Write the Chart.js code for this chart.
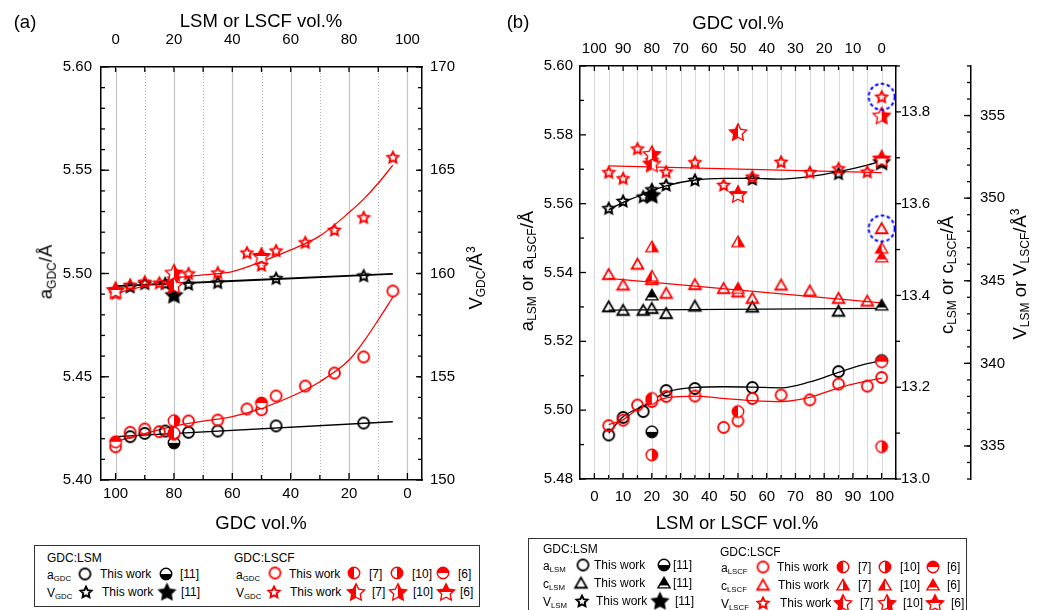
<!DOCTYPE html>
<html>
<head>
<meta charset="utf-8">
<script src="https://cdn.jsdelivr.net/npm/chart.js@4.4.0/dist/chart.umd.min.js"></script>
<style>
  body { margin: 0; background: #fff; font-family: "Liberation Sans", Arial, sans-serif; }
  #page { position: relative; width: 1061px; height: 610px; overflow: hidden; }
  canvas.chart { position: absolute; top: 0; }
  .t { position: absolute; white-space: nowrap; color: #000; line-height: 1; }
  .title { font-size: 18.5px; transform: translate(-50%, -50%); }
  .rot { transform: translate(-50%, -50%) rotate(-90deg); }
  sub { font-size: 0.65em; vertical-align: -0.3em; line-height: 0; }
  sup { font-size: 0.65em; vertical-align: 0.55em; line-height: 0; }
  .box { position: absolute; border: 1.3px solid #333; }
  .lg { position: absolute; font-size: 12px; line-height: 1; white-space: nowrap; transform: translateY(-50%); }
  .sym { position: absolute; transform: translate(-50%, -50%); line-height: 0; }
</style>
</head>
<body>
<div id="page">
  <canvas id="chartA" class="chart" width="520" height="540" style="left:0"></canvas>
  <canvas id="chartB" class="chart" width="561" height="540" style="left:500px"></canvas>

  <!-- panel (a) titles -->
  <div class="t title" style="left:25px;top:22px">(a)</div>
  <div class="t title" style="left:261px;top:21px">LSM or LSCF vol.%</div>
  <div class="t title" style="left:261px;top:523px">GDC vol.%</div>
  <div class="t title rot" style="left:46px;top:272px">a<sub>GDC</sub>/Å</div>
  <div class="t title rot" style="left:476px;top:278px">V<sub>GDC</sub>/Å<sup>3</sup></div>

  <!-- panel (b) titles -->
  <div class="t title" style="left:518px;top:22px">(b)</div>
  <div class="t title" style="left:738px;top:23px">GDC vol.%</div>
  <div class="t title" style="left:737px;top:523px">LSM or LSCF vol.%</div>
  <div class="t title rot" style="left:527px;top:271px">a<sub>LSM</sub> or a<sub>LSCF</sub>/Å</div>
  <div class="t title rot" style="left:947px;top:275px">c<sub>LSM</sub> or c<sub>LSCF</sub>/Å</div>
  <div class="t title rot" style="left:1020px;top:274px">V<sub>LSM</sub> or V<sub>LSCF</sub>/Å<sup>3</sup></div>

  <!-- legend (a) -->
  <div class="box" style="left:34px;top:545px;width:444px;height:60px"></div>
  <div class="lg" style="left:47px;top:558px">GDC:LSM</div>
  <div class="lg" style="left:47px;top:575px">a<sub>GDC</sub></div>
  <div class="lg" style="left:100px;top:574px">This work</div>
  <div class="lg" style="left:180px;top:574px">[11]</div>
  <div class="lg" style="left:47px;top:593px">V<sub>GDC</sub></div>
  <div class="lg" style="left:102px;top:592px">This work</div>
  <div class="lg" style="left:181px;top:592px">[11]</div>
  <div class="lg" style="left:234px;top:558px">GDC:LSCF</div>
  <div class="lg" style="left:236px;top:575px">a<sub>GDC</sub></div>
  <div class="lg" style="left:289px;top:574px">This work</div>
  <div class="lg" style="left:369px;top:574px">[7]</div>
  <div class="lg" style="left:412px;top:574px">[10]</div>
  <div class="lg" style="left:458px;top:574px">[6]</div>
  <div class="lg" style="left:236px;top:593px">V<sub>GDC</sub></div>
  <div class="lg" style="left:290px;top:592px">This work</div>
  <div class="lg" style="left:372px;top:592px">[7]</div>
  <div class="lg" style="left:413px;top:592px">[10]</div>
  <div class="lg" style="left:460px;top:592px">[6]</div>

  <!-- legend (b) -->
  <div class="box" style="left:528px;top:538px;width:437px;height:80px"></div>
  <div class="lg" style="left:543px;top:549px">GDC:LSM</div>
  <div class="lg" style="left:543px;top:566px">a<sub>LSM</sub></div>
  <div class="lg" style="left:594px;top:565px">This work</div>
  <div class="lg" style="left:673px;top:565px">[11]</div>
  <div class="lg" style="left:543px;top:584px">c<sub>LSM</sub></div>
  <div class="lg" style="left:594px;top:583px">This work</div>
  <div class="lg" style="left:673px;top:583px">[11]</div>
  <div class="lg" style="left:543px;top:602px">V<sub>LSM</sub></div>
  <div class="lg" style="left:596px;top:601px">This work</div>
  <div class="lg" style="left:675px;top:601px">[11]</div>
  <div class="lg" style="left:720px;top:552px">GDC:LSCF</div>
  <div class="lg" style="left:721px;top:568px">a<sub>LSCF</sub></div>
  <div class="lg" style="left:777px;top:567px">This work</div>
  <div class="lg" style="left:858px;top:567px">[7]</div>
  <div class="lg" style="left:900px;top:567px">[10]</div>
  <div class="lg" style="left:947px;top:567px">[6]</div>
  <div class="lg" style="left:721px;top:586px">c<sub>LSCF</sub></div>
  <div class="lg" style="left:778px;top:585px">This work</div>
  <div class="lg" style="left:858px;top:585px">[7]</div>
  <div class="lg" style="left:900px;top:585px">[10]</div>
  <div class="lg" style="left:947px;top:585px">[6]</div>
  <div class="lg" style="left:721px;top:604px">V<sub>LSCF</sub></div>
  <div class="lg" style="left:780px;top:603px">This work</div>
  <div class="lg" style="left:860px;top:603px">[7]</div>
  <div class="lg" style="left:903px;top:603px">[10]</div>
  <div class="lg" style="left:951px;top:603px">[6]</div>
</div>

<script>
// ============================================
// Data: panel (a), x = GDC vol.%
// ============================================
const volTicksA = [0, 20, 40, 60, 80, 100];
const aTicksA = [5.40, 5.45, 5.50, 5.55, 5.60];
const vTicksA = [150, 155, 160, 165, 170];

// GDC:LSM, this work
const gdcLsmX = [95, 90, 83, 75, 65, 45, 15];
const aGdcLsm = [5.4210, 5.4226, 5.4237, 5.4231, 5.4237, 5.4262, 5.4276];
const vGdcLsm = [159.36, 159.52, 159.52, 159.49, 159.57, 159.77, 159.90];
// GDC:LSM, ref [11]
const gdcLsm11X = [80];
const aGdcLsm11 = [5.4180];
const vGdcLsm11 = [158.96];

// GDC:LSCF, this work
const gdcLscfX = [100, 95, 90, 85, 80, 75, 65, 55, 50, 45, 35, 25, 15, 5];
const aGdcLscf = [5.4161, 5.4231, 5.4247, 5.4234, 5.4222, 5.4286, 5.4290, 5.4344, 5.4340, 5.4407, 5.4455, 5.4518, 5.4596, 5.4915];
const vGdcLscf = [159.04, 159.45, 159.60, 159.55, 159.75, 160.00, 160.04, 161.01, 160.41, 161.11, 161.51, 162.11, 162.72, 165.63];
// GDC:LSCF, literature
const gdcRef7X = [80];
const aGdcRef7 = [5.4228];
const vGdcRef7 = [159.44];
const gdcRef10X = [80];
const aGdcRef10 = [5.4287];
const vGdcRef10 = [160.04];
const gdcRef6X = [100, 50];
const aGdcRef6 = [5.4185, 5.4373];
const vGdcRef6 = [159.20, 160.85];

// fitted curves
const fitGdcLsmX = [100, 5];
const fitAGdcLsm = [5.4210, 5.4282];
const fitVGdcLsm = [159.39, 159.98];
const fitGdcLscfX = [100, 90, 80, 70, 60, 50, 40, 30, 20, 15, 10, 5];
const fitAGdcLscf = [5.4186, 5.4225, 5.4261, 5.4285, 5.4307, 5.4347, 5.4403, 5.4476, 5.4581, 5.4670, 5.4775, 5.4885];
const fitVGdcLscf = [159.04, 159.40, 159.77, 159.93, 160.09, 160.57, 161.14, 161.82, 162.95, 163.60, 164.37, 165.25];

// ============================================
// Data: panel (b), x = LSM or LSCF vol.%
// ============================================
const volTicksB = [0, 10, 20, 30, 40, 50, 60, 70, 80, 90, 100];
const aTicksB = [5.48, 5.50, 5.52, 5.54, 5.56, 5.58, 5.60];
const cTicksB = [13.0, 13.2, 13.4, 13.6, 13.8];
const vTicksB = [335, 340, 345, 350, 355];

// LSM, this work
const aLsmX = [5, 10, 17, 25, 35, 55, 85];
const aLsm = [5.4928, 5.4979, 5.4996, 5.5057, 5.5063, 5.5066, 5.5112];
const cvLsmX = [5, 10, 17, 20, 25, 35, 55, 85];
const cLsm = [13.3755, 13.368, 13.368, 13.372, 13.361, 13.377, 13.375, 13.366];
const vLsm = [349.39, 349.83, 350.09, 350.53, 350.80, 351.10, 351.16, 351.50];
// LSM, ref [11]
const lsm11X = [20, 100];
const aLsm11 = [5.4937, 5.5144];
const cLsm11 = [13.401, 13.379];
const vLsm11 = [350.19, 352.20];

// LSCF, this work
const aLscfX = [5, 10, 15, 20, 25, 35, 45, 50, 55, 65, 75, 85, 95, 100];
const aLscf = [5.4955, 5.4971, 5.5015, 5.5025, 5.5040, 5.5041, 5.4950, 5.4969, 5.5034, 5.5044, 5.5030, 5.5076, 5.5070, 5.5095];
const cLscfX = [5, 10, 15, 20, 25, 35, 45, 50, 55, 65, 75, 85, 95, 100];
const cLscf = [13.446, 13.423, 13.4685, 13.435, 13.405, 13.424, 13.4155, 13.408, 13.394, 13.423, 13.410, 13.394, 13.388, 13.546];
const vLscfX = [5, 10, 15, 20, 25, 35, 45, 55, 65, 75, 85, 95, 100];
const vLscf = [351.57, 351.20, 353.00, 352.30, 351.60, 352.17, 350.80, 351.30, 352.20, 351.57, 351.80, 351.60, 356.14];
// LSCF, literature
const ref7X = [20, 50];
const aRef7 = [5.5034, 5.4996];
const cRef7 = [13.506, 13.517];
const vRef7 = [352.10, 354.00];
const ref10X = [20, 100];
const aRef10 = [5.4870, 5.4894];
const cRef10 = [13.442, 13.503];
const vRef10 = [352.67, 355.00];
const aRef6X = [100];
const aRef6 = [5.5141];
const ref6X = [50, 100];
const cRef6 = [13.4155, 13.484];
const vRef6 = [350.25, 352.40];
// points circled in blue
const flagX = [100];
const flagC = [13.546];
const flagV = [356.14];

// fitted curves
const fitALsmX = [5, 10, 17, 25, 35, 45, 55, 65, 75, 85, 95, 100];
const fitALsm = [5.4933, 5.4981, 5.5012, 5.5052, 5.5066, 5.5068, 5.5067, 5.5065, 5.5082, 5.5110, 5.5135, 5.5144];
const fitALscfX = [5, 10, 15, 20, 25, 35, 45, 55, 65, 75, 85, 95, 100];
const fitALscf = [5.4958, 5.4972, 5.5003, 5.5020, 5.5036, 5.5041, 5.5034, 5.5028, 5.5025, 5.5037, 5.5065, 5.5085, 5.5093];
const fitLineX = [5, 100];
const fitCLsm = [13.368, 13.372];
const fitCLscf = [13.437, 13.384];
const fitVLscf = [351.95, 351.54];
const fitVLsmX = [5, 10, 15, 20, 25, 35, 45, 55, 65, 75, 85, 95, 100];
const fitVLsm = [349.30, 349.75, 350.10, 350.45, 350.75, 351.10, 351.20, 351.20, 351.15, 351.30, 351.60, 352.00, 352.25];

// ============================================
// Helpers
// ============================================
const RED = '#ff0000';
const BLK = '#000000';

function pts(xs, ys) { return xs.map((x, i) => ({ x: x, y: ys[i] })); }
function steps(from, to, step) {
    const out = [];
    for (let v = from; v <= to + step / 2; v += step) out.push(Math.round(v * 1000) / 1000);
    return out;
}

// marker drawn on a little canvas, used as pointStyle
function marker(shape, color, fill, size, lw) {
    const dim = Math.ceil(size + lw * 4 + 2);
    const cv = document.createElement('canvas');
    cv.width = cv.height = dim;
    const g = cv.getContext('2d');
    const c = dim / 2, r = size / 2;
    const path = () => {
        g.beginPath();
        if (shape === 'circle') {
            g.arc(c, c, r, 0, Math.PI * 2);
        } else if (shape === 'triangle') {
            for (let i = 0; i < 3; i++) {
                const a = -Math.PI / 2 + i * 2 * Math.PI / 3;
                g.lineTo(c + r * Math.cos(a), c + r * Math.sin(a) + r * 0.2);
            }
        } else {
            for (let i = 0; i < 10; i++) {
                const a = -Math.PI / 2 + i * Math.PI / 5;
                const rr = i % 2 ? r * 0.5 : r;
                g.lineTo(c + rr * Math.cos(a), c + rr * Math.sin(a) + r * 0.08);
            }
        }
        g.closePath();
    };
    if (fill !== 'none') {
        g.save();
        path();
        g.clip();
        g.fillStyle = '#fff';
        g.fillRect(0, 0, dim, dim);
        g.fillStyle = color;
        if (fill === 'full') g.fillRect(0, 0, dim, dim);
        if (fill === 'left') g.fillRect(0, 0, c, dim);
        if (fill === 'right') g.fillRect(c, 0, dim, dim);
        if (fill === 'top') g.fillRect(0, 0, dim, c);
        if (fill === 'bottom') g.fillRect(0, c, dim, dim);
        if (fill === 'upper') g.fillRect(0, 0, dim, c + r * 0.35);
        g.restore();
    }
    path();
    g.strokeStyle = color;
    g.lineWidth = lw;
    g.stroke();
    return cv;
}

function ring(size) {
    const dim = size + 6;
    const cv = document.createElement('canvas');
    cv.width = cv.height = dim;
    const g = cv.getContext('2d');
    g.setLineDash([3.5, 2.5]);
    g.strokeStyle = '#0000ff';
    g.lineWidth = 2;
    g.beginPath();
    g.arc(dim / 2, dim / 2, size / 2, 0, Math.PI * 2);
    g.stroke();
    return cv;
}

// marker set
const M = {
    oK: marker('circle', BLK, 'none', 11, 1.8),
    oK11: marker('circle', BLK, 'bottom', 11.5, 1.4),
    oR: marker('circle', RED, 'none', 11, 1.8),
    oR7: marker('circle', RED, 'left', 11.5, 1.4),
    oR10: marker('circle', RED, 'right', 11.5, 1.4),
    oR6: marker('circle', RED, 'top', 11.5, 1.4),
    tK: marker('triangle', BLK, 'none', 13.5, 1.8),
    tK11: marker('triangle', BLK, 'upper', 14, 1.4),
    tR: marker('triangle', RED, 'none', 13.5, 1.8),
    tR7: marker('triangle', RED, 'right', 14, 1.4),
    tR10: marker('triangle', RED, 'left', 14, 1.4),
    tR6: marker('triangle', RED, 'upper', 14, 1.4),
    sK: marker('star', BLK, 'none', 11.5, 2),
    sK11: marker('star', BLK, 'full', 17, 1.4),
    sR: marker('star', RED, 'none', 11.5, 2),
    sR7: marker('star', RED, 'left', 18, 1.4),
    sR10: marker('star', RED, 'right', 18, 1.4),
    sR6: marker('star', RED, 'top', 18, 1.4),
    ring: ring(26)
};

function scat(data, style, yAxisID, order) {
    return { data: data, pointStyle: style, pointRadius: 5, showLine: false, yAxisID: yAxisID, order: order };
}
function fitLine(data, color, yAxisID, width) {
    return {
        data: data, showLine: true, pointRadius: 0, borderColor: color, borderWidth: width,
        cubicInterpolationMode: 'monotone', yAxisID: yAxisID, order: 50
    };
}

function axis(pos, min, max, ticks, size, pad, fmt, extra) {
    return Object.assign({
        type: 'linear', position: pos, min: min, max: max,
        afterBuildTicks: s => { s.ticks = ticks.map(v => ({ value: v })); },
        afterFit: s => { if (pos === 'top' || pos === 'bottom') s.height = size; else s.width = size; },
        grid: { drawOnChartArea: false, drawTicks: false },
        border: { display: true, color: '#000', width: 1.5 },
        ticks: { padding: pad, autoSkip: false, maxRotation: 0, color: '#000', font: { size: 15 }, callback: fmt || (v => String(v)) }
    }, extra || {});
}

// grid lines in the plot + tick marks on the axes
function axisMarks(gridScale, gridSets, tickSets) {
    return {
        id: 'axisMarks',
        beforeDatasetsDraw(chart) {
            const { ctx, chartArea: a } = chart;
            const s = chart.scales[gridScale];
            ctx.save();
            for (const gs of gridSets) {
                ctx.strokeStyle = gs.color;
                ctx.lineWidth = gs.width;
                ctx.setLineDash(gs.dash);
                for (const v of gs.values) {
                    const x = Math.round(s.getPixelForValue(v)) + 0.5;
                    ctx.beginPath();
                    ctx.moveTo(x, a.top);
                    ctx.lineTo(x, a.bottom);
                    ctx.stroke();
                }
            }
            ctx.restore();
        },
        afterDraw(chart) {
            const ctx = chart.ctx;
            ctx.save();
            ctx.strokeStyle = '#000';
            ctx.lineWidth = 1.3;
            for (const t of tickSets) {
                const s = chart.scales[t.id];
                for (const [vals, len] of [[t.major, t.majorLen], [t.minor, t.minorLen]]) {
                    for (const v of vals) {
                        const p = s.getPixelForValue(v);
                        ctx.beginPath();
                        if (s.isHorizontal()) {
                            const y0 = s.position === 'top' ? s.bottom : s.top;
                            ctx.moveTo(p, y0);
                            ctx.lineTo(p, y0 + t.dir * len);
                        } else {
                            const x0 = s.position === 'left' ? s.right : s.left;
                            ctx.moveTo(x0, p);
                            ctx.lineTo(x0 + t.dir * len, p);
                        }
                        ctx.stroke();
                    }
                }
            }
            ctx.restore();
        }
    };
}

Chart.defaults.font.family = '"Liberation Sans", Arial, sans-serif';
Chart.defaults.color = '#000';

const common = {
    responsive: false,
    animation: false,
    events: [],
    layout: { padding: 0 },
    plugins: { legend: { display: false }, tooltip: { enabled: false } }
};

// ============================================
// Panel (a)
// ============================================
new Chart(document.getElementById('chartA'), {
    type: 'scatter',
    data: {
        datasets: [
            scat(pts(gdcRef6X, vGdcRef6), M.sR6, 'yV', 1),
            scat(pts(gdcRef10X, vGdcRef10), M.sR10, 'yV', 1),
            scat(pts(gdcRef7X, vGdcRef7), M.sR7, 'yV', 1),
            scat(pts(gdcRef6X, aGdcRef6), M.oR6, 'y', 1),
            scat(pts(gdcRef10X, aGdcRef10), M.oR10, 'y', 1),
            scat(pts(gdcRef7X, aGdcRef7), M.oR7, 'y', 1),
            scat(pts(gdcLscfX, vGdcLscf), M.sR, 'yV', 2),
            scat(pts(gdcLscfX, aGdcLscf), M.oR, 'y', 2),
            scat(pts(gdcLsm11X, vGdcLsm11), M.sK11, 'yV', 3),
            scat(pts(gdcLsm11X, aGdcLsm11), M.oK11, 'y', 3),
            scat(pts(gdcLsmX, vGdcLsm), M.sK, 'yV', 4),
            scat(pts(gdcLsmX, aGdcLsm), M.oK, 'y', 4),
            fitLine(pts(fitGdcLscfX, fitVGdcLscf), RED, 'yV', 1.3),
            fitLine(pts(fitGdcLscfX, fitAGdcLscf), RED, 'y', 1.3),
            fitLine(pts(fitGdcLsmX, fitVGdcLsm), BLK, 'yV', 1.8),
            fitLine(pts(fitGdcLsmX, fitAGdcLsm), BLK, 'y', 1.3)
        ]
    },
    options: Object.assign({}, common, {
        scales: {
            x: axis('bottom', -5, 105, volTicksA, 60, 5, null, { reverse: true }),
            x2: axis('top', -5, 105, volTicksA, 67, 18),
            y: axis('left', 5.40, 5.60, aTicksA, 101, 9, v => v.toFixed(2)),
            yV: axis('right', 150, 170, vTicksA, 98, 8)
        }
    }),
    plugins: [axisMarks('x',
        [
            { values: [0, 20, 40, 60, 80, 100], color: '#c4c4c4', width: 1.2, dash: [] },
            { values: [10, 30, 50, 70, 90], color: '#b0b0b0', width: 1, dash: [1, 2] }
        ],
        [
            { id: 'x', dir: -1, major: volTicksA, minor: [10, 30, 50, 70, 90], majorLen: 7, minorLen: 5 },
            { id: 'x2', dir: 1, major: volTicksA, minor: [10, 30, 50, 70, 90], majorLen: 5, minorLen: 5 },
            { id: 'y', dir: 1, major: aTicksA, minor: steps(5.41, 5.59, 0.01), majorLen: 8, minorLen: 4 },
            { id: 'yV', dir: -1, major: vTicksA, minor: steps(151, 169, 1), majorLen: 6, minorLen: 4 }
        ])]
});

// ============================================
// Panel (b)
// ============================================
new Chart(document.getElementById('chartB'), {
    type: 'scatter',
    data: {
        datasets: [
            scat(pts(flagX, flagV), M.ring, 'vB', 0),
            scat(pts(flagX, flagC), M.ring, 'c', 0),
            scat(pts(ref6X, vRef6), M.sR6, 'vB', 1),
            scat(pts(ref10X, vRef10), M.sR10, 'vB', 1),
            scat(pts(ref7X, vRef7), M.sR7, 'vB', 1),
            scat(pts(ref6X, cRef6), M.tR6, 'c', 1),
            scat(pts(ref10X, cRef10), M.tR10, 'c', 1),
            scat(pts(ref7X, cRef7), M.tR7, 'c', 1),
            scat(pts(aRef6X, aRef6), M.oR6, 'y', 1),
            scat(pts(ref10X, aRef10), M.oR10, 'y', 1),
            scat(pts(ref7X, aRef7), M.oR7, 'y', 1),
            scat(pts(vLscfX, vLscf), M.sR, 'vB', 2),
            scat(pts(cLscfX, cLscf), M.tR, 'c', 2),
            scat(pts(aLscfX, aLscf), M.oR, 'y', 2),
            scat(pts(lsm11X, vLsm11), M.sK11, 'vB', 3),
            scat(pts(lsm11X, cLsm11), M.tK11, 'c', 3),
            scat(pts(lsm11X, aLsm11), M.oK11, 'y', 3),
            scat(pts(cvLsmX, vLsm), M.sK, 'vB', 4),
            scat(pts(cvLsmX, cLsm), M.tK, 'c', 4),
            scat(pts(aLsmX, aLsm), M.oK, 'y', 4),
            fitLine(pts(fitLineX, fitVLscf), RED, 'vB', 1.3),
            fitLine(pts(fitLineX, fitCLscf), RED, 'c', 1.3),
            fitLine(pts(fitALscfX, fitALscf), RED, 'y', 1.3),
            fitLine(pts(fitVLsmX, fitVLsm), BLK, 'vB', 1.3),
            fitLine(pts(fitLineX, fitCLsm), BLK, 'c', 1.3),
            fitLine(pts(fitALsmX, fitALsm), BLK, 'y', 1.3)
        ]
    },
    options: Object.assign({}, common, {
        scales: {
            x: axis('bottom', -5, 105, volTicksB, 61, 9),
            x2: axis('top', -5, 105, volTicksB, 66, 8, null, { reverse: true }),
            y: axis('left', 5.48, 5.60, aTicksB, 80, 7, v => v.toFixed(2)),
            c: axis('right', 13.0, 13.9, cTicksB, 75, 5, v => v.toFixed(1), { weight: 0 }),
            vB: axis('right', 333, 358, vTicksB, 90, 9, null, { weight: 1 })
        }
    }),
    plugins: [axisMarks('x',
        [
            { values: steps(0, 100, 5), color: '#dadada', width: 1, dash: [] }
        ],
        [
            { id: 'x', dir: -1, major: volTicksB, minor: steps(5, 95, 10), majorLen: 6, minorLen: 4 },
            { id: 'x2', dir: 1, major: volTicksB, minor: steps(5, 95, 10), majorLen: 5, minorLen: 4 },
            { id: 'y', dir: 1, major: aTicksB, minor: steps(5.49, 5.59, 0.02), majorLen: 6, minorLen: 4 },
            { id: 'c', dir: 1, major: cTicksB, minor: [13.1, 13.3, 13.5, 13.7, 13.9], majorLen: 5, minorLen: 4 },
            { id: 'vB', dir: -1, major: vTicksB, minor: steps(333, 358, 1), majorLen: 7, minorLen: 4 }
        ])]
});

// ============================================
// Legend symbols
// ============================================
const legendSyms = [
    ['oK', 85, 574], ['oK11', 166, 574], ['sK', 86, 592], ['sK11', 167, 592],
    ['oR', 275, 573], ['oR7', 354, 573], ['oR10', 397, 573], ['oR6', 443, 573],
    ['sR', 274, 592], ['sR7', 356, 592], ['sR10', 398, 592], ['sR6', 446, 592],
    ['oK', 583, 565], ['oK11', 664, 565], ['tK', 581, 583], ['tK11', 664, 583], ['sK', 582, 601], ['sK11', 660, 601],
    ['oR', 763, 567], ['oR7', 843, 567], ['oR10', 885, 567], ['oR6', 933, 567],
    ['tR', 763, 585], ['tR7', 843, 585], ['tR10', 885, 585], ['tR6', 933, 585],
    ['sR', 763, 603], ['sR7', 843, 603], ['sR10', 887, 603], ['sR6', 935, 603]
];
const page = document.getElementById('page');
legendSyms.forEach(([key, x, y]) => {
    const src = M[key];
    const cv = document.createElement('canvas');
    cv.width = src.width;
    cv.height = src.height;
    cv.getContext('2d').drawImage(src, 0, 0);
    const span = document.createElement('span');
    span.className = 'sym';
    span.style.left = x + 'px';
    span.style.top = y + 'px';
    span.appendChild(cv);
    page.appendChild(span);
});
</script>
</body>
</html>
